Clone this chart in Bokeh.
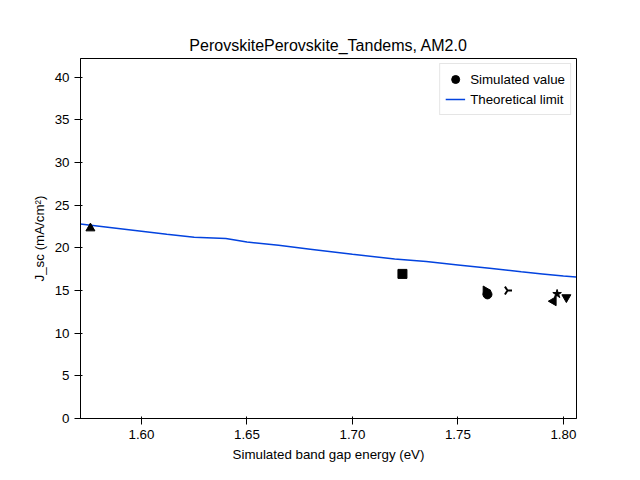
import math
from bokeh.plotting import figure
from bokeh.embed import file_html
from bokeh.resources import INLINE
from bokeh.models import Range1d, Legend, LegendItem

lim_x = [1.571, 1.585, 1.60, 1.612, 1.625, 1.64, 1.65, 1.665, 1.68, 1.70, 1.72, 1.735, 1.75, 1.765, 1.78, 1.79, 1.80, 1.806]
lim_y = [22.8, 22.4, 21.95, 21.6, 21.25, 21.1, 20.7, 20.3, 19.85, 19.25, 18.7, 18.4, 18.0, 17.6, 17.2, 16.95, 16.7, 16.6]
pts = [
    ("triangle", 0.0, 1.5758, 22.3),
    ("square", 0.0, 1.7237, 16.95),
    ("triangle", -math.pi / 2, 1.7632, 15.0),
    ("circle", 0.0, 1.764, 14.55),
    ("y", math.pi / 2, 1.7735, 15.0),
    ("triangle", math.pi / 2, 1.7953, 13.75),
    ("star", 0.0, 1.797, 14.6),
    ("inverted_triangle", 0.0, 1.8014, 14.2),
]

p = figure(width=624, height=464, output_backend="svg", toolbar_location=None,
           x_range=Range1d(1.5711, 1.8062), y_range=Range1d(0, 42.2),
           title="PerovskitePerovskite_Tandems, AM2.0",
           x_axis_label="Simulated band gap energy (eV)", y_axis_label="J_sc (mA/cm²)",
           min_border_left=72, min_border_right=48, min_border_top=50, min_border_bottom=45)
p.min_border_left = 80
p.min_border_top = 58
p.min_border_bottom = 45
p.title.align = "center"
p.title.text_font_size = "12pt"
p.title.text_font_style = "normal"
p.title.text_color = "black"
p.xgrid.visible = False
p.ygrid.visible = False
p.outline_line_color = "black"
for ax in (p.xaxis[0], p.yaxis[0]):
    ax.axis_label_text_font_style = "normal"
    ax.axis_label_text_font_size = "10pt"
    ax.axis_label_text_color = "black"
    ax.major_label_text_font_size = "10pt"
    ax.major_label_text_color = "black"
    ax.minor_tick_line_color = None
    ax.axis_line_color = "black"
    ax.major_tick_line_color = "black"
p.xaxis.ticker = [1.60, 1.65, 1.70, 1.75, 1.80]
p.yaxis.ticker = list(range(0, 45, 5))
p.xaxis.major_label_overrides = {1.60: "1.60", 1.65: "1.65", 1.70: "1.70", 1.75: "1.75", 1.80: "1.80"}

line = p.line(lim_x, lim_y, line_color="#0343df", line_width=1.5)
dot = p.scatter([-1], [-1], marker="circle", size=4, color="black")
for m, a, x, y in pts:
    p.scatter([x], [y], marker=m, angle=a, size=9, color="black", line_width=2 if m == "y" else 1)

leg = Legend(items=[LegendItem(label="Simulated value", renderers=[dot]),
                    LegendItem(label="Theoretical limit", renderers=[line])],
             location="top_right", border_line_color="#cccccc", label_text_font_size="10pt",
             label_text_color="black", spacing=0, padding=5, margin=5)
p.add_layout(leg)

open("out.html", "w").write(file_html(p, INLINE))
